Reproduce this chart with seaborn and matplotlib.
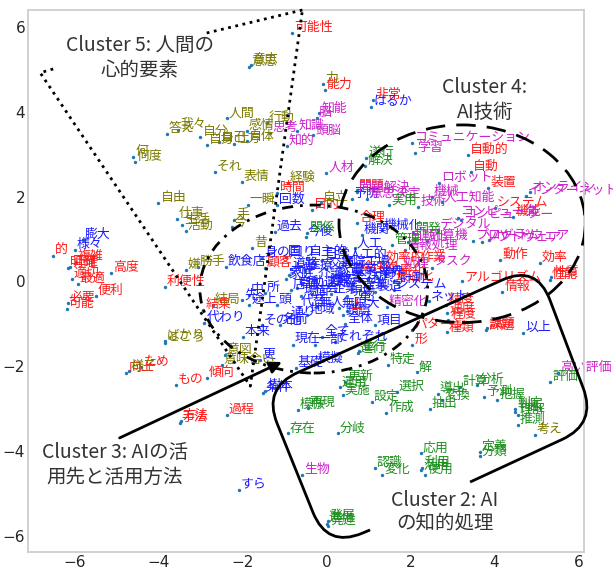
import numpy as np
import pandas as pd
import matplotlib.pyplot as plt
import seaborn as sns
from matplotlib.patches import Ellipse, PathPatch
from matplotlib.path import Path

sns.set_theme(style="whitegrid")
plt.rcParams['font.family'] = ['DejaVu Sans', 'Noto Sans CJK JP']
JP = ['Noto Sans CJK JP', 'DejaVu Sans']

# --- 語とその座標（クラスタ別）---
words_red = ["可能性", "能力", "非常", "時間", "問題", "目的", "合理", "自動的", "自動", "装置",
             "システム", "機能", "動作", "効率", "性能", "性質", "アルゴリズム", "情報", "効率的", "作業",
             "効率化", "最適化", "論理的", "精度", "速度", "程度", "課題", "話題", "種類", "パターン",
             "形", "顧客", "利便性", "結果", "もの", "傾向", "ため", "向上", "手法", "方法",
             "過程", "的", "複雑", "明確", "正確", "適切", "最適", "高度", "便利", "必要",
             "可能", "上"]
x_red = [-0.82, -0.04, 1.11, -1.18, 0.72, -0.35, 0.73, 3.37, 3.44, 3.85,
         4.01, 4.45, 4.13, 5.08, 5.32, 5.35, 3.23, 4.18, 1.35, 2.18,
         1.40, 1.60, 0.75, 2.85, 2.87, 2.90, 3.80, 3.83, 2.87, 2.04,
         2.04, -1.46, -3.85, -2.93, -3.58, -2.85, -4.40, -4.76, -3.49, -3.47,
         -2.37, -6.50, -5.96, -6.15, -6.10, -6.06, -5.92, -5.13, -5.49, -6.15,
         -6.18, 0.50]
y_red = [5.86, 4.52, 4.28, 2.09, 2.15, 1.68, 1.38, 2.98, 2.58, 2.20,
         1.73, 1.52, 0.51, 0.44, 0.04, 0.10, 0.00, -0.24, 0.44, 0.44,
         0.15, 0.00, 0.20, -0.55, -0.75, -0.90, -1.15, -1.10, -1.20, -1.15,
         -1.50, 0.32, -0.13, -0.67, -2.44, -2.28, -2.02, -2.16, -3.34, -3.28,
         -3.15, 0.60, 0.46, 0.32, 0.35, 0.06, -0.06, 0.20, -0.34, -0.51,
         -0.65, -0.70]

words_blue = ["はるか", "回数", "予防", "今後", "過去", "機関", "機械化", "人工", "人工的", "自主的",
              "国", "飲食店", "身の回り", "中", "所", "先", "途上", "頭", "代わり", "代替",
              "無人", "無限大", "通り", "地域", "その他", "名前", "本来", "更", "現在", "一部",
              "全て", "それぞれ", "全体", "錯誤", "項目", "以上", "システム", "ネット", "計測", "模擬",
              "基礎", "条件", "樹木", "すら", "膨大", "様々",
              "道路", "医療", "介護", "交通", "教育", "自動運転", "農業", "産業", "分野", "社会",
              "企業", "現場", "工場", "製造", "家庭", "病院", "場面", "日常", "家電", "店舗",
              "車", "大学", "業界", "運転", "会社"]
x_blue = [1.06, -1.18, 0.60, -0.49, -1.23, 0.84, 1.32, 0.68, 0.48, -0.47,
          -0.96, -2.40, -1.53, -1.84, -1.46, -2.01, -1.84, -1.18, -2.91, -0.65,
          -0.23, 0.30, -0.90, -0.45, -1.53, -1.10, -1.99, -1.58, -0.80, -0.27,
          -0.10, 0.20, 0.45, 0.40, 1.15, 4.68, 1.60, 2.45, 1.70, -0.25,
          -0.73, -1.51, -1.45, -2.08, -5.80, -5.99,
          -0.85, -0.50, -0.25, 0.00, 0.25, -0.70, 0.55, 0.80, 1.00, -0.35,
          0.10, 0.50, 0.85, 1.15, -0.95, 0.30, -0.60, -0.10, 0.20, -0.85,
          0.70, -0.90, 1.20, 0.05, 0.60]
y_blue = [4.11, 1.80, 1.95, 1.05, 1.17, 1.10, 1.21, 0.79, 0.50, 0.55,
          0.58, 0.34, 0.55, -0.32, -0.27, -0.44, -0.55, -0.55, -0.98, -0.60,
          -0.60, -0.63, -0.85, -0.78, -1.03, -1.03, -1.31, -1.85, -1.50, -1.50,
          -1.30, -1.43, -1.00, -0.80, -1.03, -1.21, -0.20, -0.45, -0.05, -1.93,
          -2.04, -2.63, -2.58, -4.92, 0.98, 0.74,
          0.30, 0.25, 0.05, 0.30, -0.05, -0.15, 0.15, -0.20, 0.05, -0.30,
          -0.30, -0.35, 0.35, -0.25, 0.05, 0.35, -0.35, 0.50, 0.15, -0.20,
          -0.50, 0.15, 0.10, -0.10, -0.05]

words_olive = ["意思", "意志", "力", "人間", "感情", "行動", "答え", "我々", "自分", "自身",
               "自己", "仕方", "自体", "何", "何度", "それ", "表情", "経験", "一瞬", "自立",
               "昔", "手", "今", "勝手", "嫌", "結局", "ばかり", "ところ", "意図", "意味合い",
               "様子", "自由", "仕事", "生活", "活動", "考え"]
x_olive = [-1.84, -1.80, -0.08, -2.37, -1.89, -1.42, -3.80, -3.53, -3.00, -2.85,
           -2.55, -2.20, -1.90, -4.60, -4.56, -2.65, -2.01, -0.92, -1.87, -0.13,
           -1.77, -2.20, -2.25, -3.06, -3.35, -2.70, -3.85, -3.85, -2.42, -2.49,
           -4.70, -4.00, -3.56, -3.44, -3.35, 4.96]
y_olive = [5.06, 5.10, 4.66, 3.85, 3.55, 3.74, 3.48, 3.57, 3.41, 3.22,
           3.28, 3.25, 3.30, 2.93, 2.82, 2.58, 2.35, 2.32, 1.80, 1.85,
           0.79, 1.45, 1.28, 0.34, 0.27, -0.56, -1.40, -1.45, -1.73, -1.97,
           -2.12, 1.85, 1.47, 1.33, 1.19, -3.62]

words_mag = ["知能", "脳", "知識", "頭脳", "思考", "知的", "人材", "学習", "コミュニケーション", "ロボット",
             "インターネット", "オンライン", "コンピュータ", "コンピューター", "人工知能", "機械", "技術", "意思決定", "問題解決", "デジタル",
             "自動化", "計算機", "プログラム", "ソフトウェア", "ハードウェア", "情報処理", "タスク", "処理", "精密化", "高い評価",
             "生物"]
x_mag = [-0.17, -0.23, -0.70, -0.32, -1.34, -0.94, 0.00, 2.11, 2.03, 2.68,
         4.75, 4.85, 3.13, 3.20, 2.75, 2.51, 2.18, 0.97, 0.72, 2.65,
         1.94, 2.40, 3.50, 3.70, 3.88, 1.87, 2.51, 1.80, 1.44, 5.51,
         -0.58]
y_mag = [3.97, 3.85, 3.55, 3.45, 3.50, 3.19, 2.56, 3.03, 3.27, 2.32,
         2.02, 2.10, 1.50, 1.45, 1.87, 1.99, 1.76, 1.95, 2.10, 1.21,
         0.93, 0.95, 0.95, 0.93, 0.97, 0.74, 0.32, 0.30, -0.60, -2.16,
         -4.56]

words_green = ["遂行", "解決", "実用", "開発", "管理", "関係", "特定", "解", "進行", "並行",
               "更新", "運用", "実施", "設定", "選択", "作成", "抽出", "導出", "変換", "計算",
               "分析", "予測", "把握", "判断", "判定", "理解", "推測", "評価", "模倣", "再現",
               "存在", "分岐", "応用", "活用", "利用", "使用", "定義", "分類", "認識", "変化",
               "進化", "発展", "発達"]
x_green = [0.95, 0.93, 1.49, 2.07, 1.56, -0.45, 1.46, 2.15, 0.75, 0.78,
           0.44, 0.32, 0.39, 1.08, 1.67, 1.42, 2.46, 2.65, 2.75, 3.18,
           3.58, 3.75, 4.06, 4.49, 4.50, 4.55, 4.56, 5.32, -0.68, -0.44,
           -0.92, 0.27, 2.25, 2.25, 2.28, 2.35, 3.65, 3.65, 1.15, 1.32,
           0.01, 0.03, 0.05]
y_green = [2.90, 2.72, 1.80, 1.14, 0.86, 1.15, -1.97, -2.14, -1.69, -1.65,
           -2.37, -2.50, -2.68, -2.84, -2.60, -3.10, -3.00, -2.65, -2.80, -2.49,
           -2.44, -2.72, -2.80, -3.08, -3.00, -3.15, -3.38, -2.37, -3.03, -2.98,
           -3.58, -3.58, -4.05, -4.45, -4.40, -4.56, -4.02, -4.12, -4.40, -4.56,
           -5.72, -5.65, -5.76]

groups = [
    (words_red, x_red, y_red, "#ff1a1a"),
    (words_blue, x_blue, y_blue, "#1a1aff"),
    (words_olive, x_olive, y_olive, "#7a7a00"),
    (words_mag, x_mag, y_mag, "#cc22cc"),
    (words_green, x_green, y_green, "#1f8f1f"),
]

df = pd.concat([pd.DataFrame({"word": w, "x": xs, "y": ys, "color": c})
                for w, xs, ys, c in groups], ignore_index=True)

# --- クラスタの囲み ---
c5_edges = [[(-0.57, 6.40), (-2.88, 5.85)],
            [(-6.50, 5.01), (-6.81, 4.92), (-1.81, -2.47), (-0.57, 6.40)]]
c4_center, c4_size = (3.23, 1.36), (5.86, 4.66)
c1_center, c1_size = (-0.30, -0.18), (5.42, 3.96)
c2_corners = [(1.04, -5.86), (0.02, -6.28), (-1.51, -2.52), (5.00, 0.40), (6.43, -3.35), (3.42, -4.73)]
c3_arrow = [(-4.92, -3.69), (-1.06, -1.90)]

labels = [("Cluster 5: 人間の\n心的要素", -4.44, 5.27),
          ("Cluster 4:\nAI技術", 3.77, 4.28),
          ("Cluster 3: AIの活\n用先と活用方法", -5.04, -4.33),
          ("Cluster 2: AI\nの知的処理", 2.82, -5.44)]


def rounded_polyline(pts, r):
    pts = np.asarray(pts, float)
    verts, codes = [pts[0]], [Path.MOVETO]
    for i in range(1, len(pts) - 1):
        p0, p1, p2 = pts[i - 1], pts[i], pts[i + 1]
        a = p1 + (p0 - p1) / np.linalg.norm(p0 - p1) * r
        b = p1 + (p2 - p1) / np.linalg.norm(p2 - p1) * r
        verts += [a, p1, b]
        codes += [Path.LINETO, Path.CURVE3, Path.CURVE3]
    verts.append(pts[-1])
    codes.append(Path.LINETO)
    return Path(verts, codes)


fig = plt.figure(figsize=(6.13, 5.70), dpi=100)
ax = fig.add_axes([28 / 613, 18 / 570, 556 / 613, 542 / 570])

sns.scatterplot(data=df, x="x", y="y", s=6, color="#1f77b4", linewidth=0,
                legend=False, ax=ax, zorder=2)
for _, row in df.iterrows():
    ax.text(row.x + 0.05, row.y - 0.03, row.word, color=row.color, fontsize=9.3,
            family=JP, ha="left", va="bottom", zorder=2)

for seg in c5_edges:
    seg = np.array(seg)
    ax.plot(seg[:, 0], seg[:, 1], color="black", ls=":", lw=2, clip_on=False, zorder=4)

ax.add_patch(Ellipse(c4_center, *c4_size, fill=False, ec="black", lw=2,
                     ls=(0, (7, 4)), zorder=4))
ax.add_patch(Ellipse(c1_center, *c1_size, fill=False, ec="black", lw=2,
                     ls=(0, (4, 2.5, 1, 2.5)), zorder=4))
ax.add_patch(PathPatch(rounded_polyline(c2_corners, 0.9), fill=False, ec="black",
                       lw=2, clip_on=False, zorder=4))
ax.annotate("", xy=c3_arrow[1], xytext=c3_arrow[0],
            arrowprops=dict(arrowstyle="-|>", color="black", lw=2,
                            mutation_scale=18, shrinkA=0, shrinkB=0), zorder=4)

for txt, lx, ly in labels:
    ax.text(lx, ly, txt, fontsize=14, family=JP, color="#333333",
            ha="center", va="center", multialignment="center", zorder=5)

ax.set_xlim(-7.1, 6.13)
ax.set_ylim(-6.38, 6.40)
ax.set_xticks([-6, -4, -2, 0, 2, 4, 6])
ax.set_yticks([-6, -4, -2, 0, 2, 4, 6])
ax.tick_params(axis="both", length=0, pad=2, labelsize=11)
ax.set_xlabel("")
ax.set_ylabel("")
ax.grid(False)

fig.savefig("out.png", dpi=100)
